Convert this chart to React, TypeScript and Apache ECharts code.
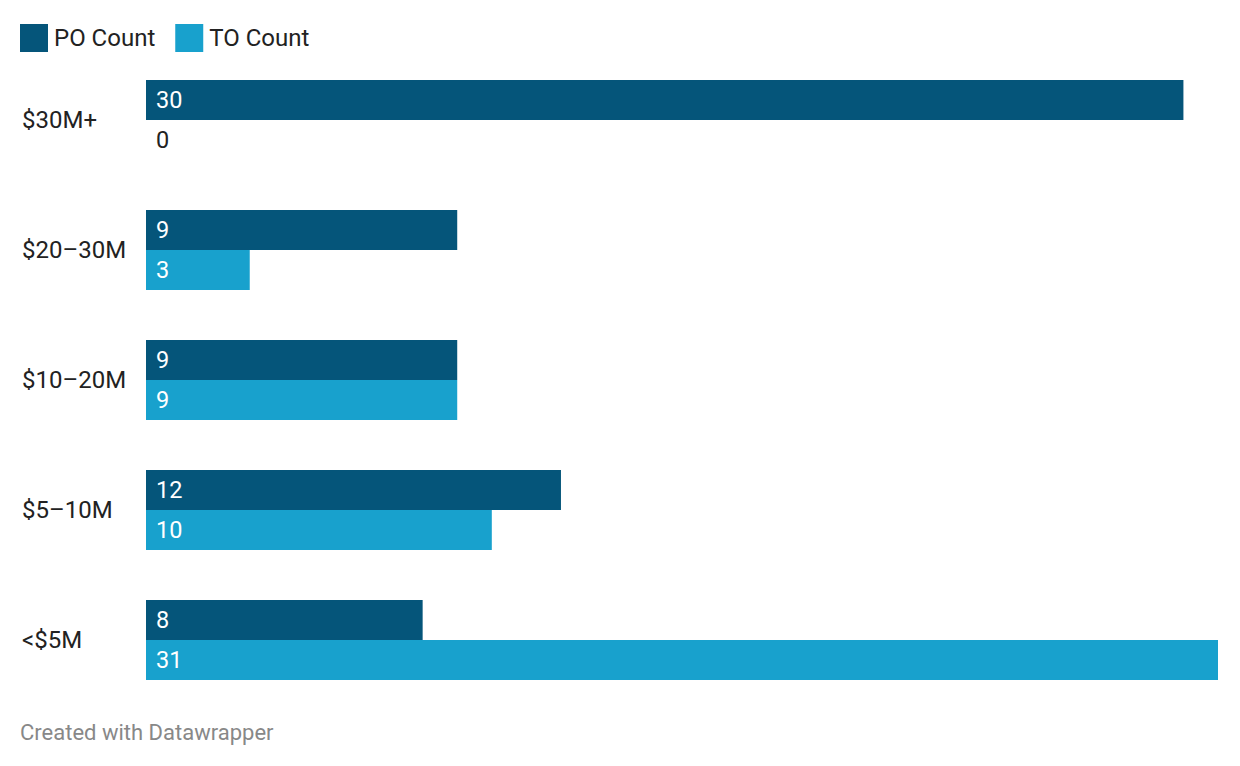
import React, { useEffect, useRef } from "react";
import * as echarts from "echarts";

const categories = ["$30M+", "$20–30M", "$10–20M", "$5–10M", "<$5M"];
const poCount = [30, 9, 9, 12, 8];
const toCount = [0, 3, 9, 10, 31];
const seriesNames = ["PO Count", "TO Count"];
const footerText = "Created with Datawrapper";

const DARK = "#05557a";
const LIGHT = "#18a1cd";

function toData(vals: number[]) {
  return vals.map((v) =>
    v === 0 ? { value: v, label: { color: "#222222" } } : { value: v }
  );
}

export default function App() {
  const ref = useRef<HTMLDivElement>(null);
  useEffect(() => {
    document.body.style.margin = "0";
    const chart = echarts.init(ref.current!, null, { renderer: "svg" });
    const label = {
      show: true,
      position: "insideLeft",
      distance: 10,
      color: "#ffffff",
      fontSize: 23.5,
      fontFamily: "Roboto",
    };
    chart.setOption({
      animation: false,
      textStyle: { fontFamily: "Roboto" },
      legend: {
        left: 15,
        top: 19,
        itemWidth: 28,
        itemHeight: 28,
        itemGap: 20,
        icon: "rect",
        textStyle: { fontSize: 24, color: "#222222", fontFamily: "Roboto", padding: [0, 0, 0, 1] },
        data: seriesNames,
      },
      grid: { left: 146, top: 55, width: 1072, height: 650, containLabel: false },
      xAxis: {
        type: "value",
        min: 0,
        max: 31,
        show: false,
      },
      yAxis: {
        type: "category",
        data: categories,
        inverse: true,
        axisLine: { show: false },
        axisTick: { show: false },
        splitLine: { show: false },
        axisLabel: {
          align: "left",
          margin: 124,
          fontSize: 24,
          color: "#222222",
          fontFamily: "Roboto",
          padding: [0, 0, 6, 0],
        },
      },
      series: [
        {
          name: seriesNames[0],
          type: "bar",
          data: toData(poCount),
          itemStyle: { color: DARK },
          barWidth: 40,
          barGap: "0%",
          barCategoryGap: "38.46%",
          label,
        },
        {
          name: seriesNames[1],
          type: "bar",
          data: toData(toCount),
          itemStyle: { color: LIGHT },
          barWidth: 40,
          barGap: "0%",
          barCategoryGap: "38.46%",
          label,
        },
      ],
      graphic: [
        {
          type: "text",
          left: 20,
          top: 721,
          style: {
            text: footerText,
            fontSize: 22,
            fill: "#888888",
            fontFamily: "Roboto",
          },
        },
      ],
    });
    return () => chart.dispose();
  }, []);
  return (
    <div
      ref={ref}
      style={{ position: "absolute", left: 0, top: 0, width: 1240, height: 766 }}
    />
  );
}
